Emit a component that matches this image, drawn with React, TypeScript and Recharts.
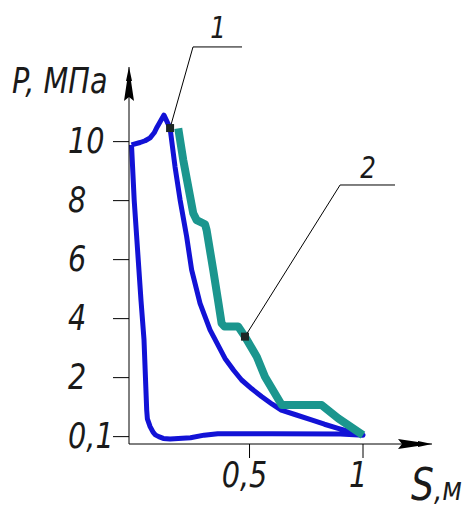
import { Line, LineChart, ReferenceDot, ReferenceLine, XAxis, YAxis } from 'recharts';

// indicator diagram, stroke S (m) vs pressure P (MPa)
const cycleS = [
  -0.02, 0.018, 0.04, 0.062, 0.08, 0.093, 0.123, 0.15, 0.172, 0.194, 0.223, 0.245, 0.282, 0.326,
  0.392, 0.43, 0.465, 0.51, 0.553, 0.6, 0.64, 0.7, 0.773, 0.83, 0.89, 0.95, 1.0, 0.9, 0.6, 0.36,
  0.3, 0.24, 0.15, 0.12, 0.1, 0.085, 0.075, 0.062, 0.05, 0.047, 0.035, 0.022, -0.008, -0.02,
];
const cycleP = [
  9.89, 9.97, 10.03, 10.13, 10.3, 10.5, 10.9, 10.46, 9.14, 8.03, 6.78, 5.65, 4.52, 3.62, 2.65,
  2.25, 1.92, 1.62, 1.36, 1.1, 0.9, 0.75, 0.57, 0.42, 0.28, 0.15, 0.05, 0.09, 0.1, 0.1, 0.05,
  -0.04, -0.08, -0.06, 0.0, 0.06, 0.15, 0.34, 0.6, 0.9, 3.3, 4.6, 8.0, 9.89,
];

const stepS = [
  0.186, 0.208, 0.252, 0.267, 0.304, 0.311, 0.34, 0.363, 0.377, 0.39, 0.45, 0.48, 0.532, 0.568,
  0.642, 0.818, 0.891, 1.0,
];
const stepP = [
  10.45, 9.38, 7.57, 7.34, 7.2, 7.0, 5.65, 4.53, 3.84, 3.73, 3.73, 3.39, 2.71, 2.03, 1.07, 1.07,
  0.62, 0.05,
];

const yTicks = [0, 2, 4, 6, 8, 10];
const yTickLabels = ['0,1', '2', '4', '6', '8', '10'];
const xTicks = [0.5, 1];
const xTickLabels = ['0,5', '1'];

// callouts: marker on curve, knee of leader, end of shelf, label position
const callouts = [
  { name: '1', dot: { x: 0.15, y: 10.46 }, knee: { x: 0.251, y: 13.21 }, end: { x: 0.467, y: 13.21 }, label: { x: 0.361, y: 13.5 } },
  { name: '2', dot: { x: 0.48, y: 3.39 }, knee: { x: 0.899, y: 8.53 }, end: { x: 1.141, y: 8.53 }, label: { x: 1.022, y: 8.77 } },
];

const cycle = cycleS.map((s, i) => ({ s, p: cycleP[i] }));
const step = stepS.map((s, i) => ({ s, p: stepP[i] }));

const FONT = "'DejaVu Sans', sans-serif";

// narrow italic text, like the drafting font
const Txt = ({ x, y, size = 35, anchor = 'start', children }: any) => (
  <text
    transform={`translate(${x},${y}) scale(0.82,1)`}
    textAnchor={anchor}
    fontFamily={FONT}
    fontStyle="italic"
    fontSize={size}
    fill="#1a1a1a"
  >
    {children}
  </text>
);

const YTick = (props: any) => {
  const { x, y, payload } = props;
  return (
    <Txt x={x - 43} y={y + 11}>
      {yTickLabels[yTicks.indexOf(payload.value)]}
    </Txt>
  );
};

const XTick = (props: any) => {
  const { x, y, payload } = props;
  return (
    <Txt x={x - 5} y={y + 27} anchor="middle">
      {xTickLabels[xTicks.indexOf(payload.value)]}
    </Txt>
  );
};

const ArrowUp = (props: any) => (
  <path d={`M${props.cx},${props.cy} l3,14 l-1,0 l3,20 l-5,-4 l-5,4 l3,-20 l-1,0 z`} fill="#000" />
);

const ArrowRight = (props: any) => (
  <path d={`M${props.cx},${props.cy} l-14,-3 l0,1 l-20,-3 l4,5 l-4,5 l20,-3 l0,1 z`} fill="#000" />
);

const Marker = (props: any) => <rect x={props.cx - 4} y={props.cy - 4} width={8} height={8} fill="#1c2624" />;

const CalloutLabel = (name: string) => (props: any) => (
  <Txt x={props.cx} y={props.cy} size={30} anchor="middle">
    {name}
  </Txt>
);

export default function App() {
  return (
    <div style={{ position: 'absolute', left: 0, top: 0, background: '#fff' }}>
      <LineChart width={467} height={512} margin={{ top: 67, right: 35, bottom: 0, left: 0 }}>
        <XAxis
          type="number"
          dataKey="s"
          domain={[-0.031, 1.304]}
          allowDataOverflow
          ticks={xTicks}
          tick={<XTick />}
          tickSize={14}
          height={68}
          axisLine={{ stroke: '#000' }}
          tickLine={{ stroke: '#000' }}
        />
        <YAxis
          type="number"
          dataKey="p"
          domain={[-0.25, 12.53]}
          allowDataOverflow
          ticks={yTicks}
          tick={<YTick />}
          tickSize={16}
          width={129}
          axisLine={{ stroke: '#000' }}
          tickLine={{ stroke: '#000' }}
        />
        <Line
          data={cycle}
          dataKey="p"
          type="linear"
          stroke="#1212d6"
          strokeWidth={5}
          strokeLinejoin="round"
          dot={false}
          isAnimationActive={false}
        />
        <Line
          data={step}
          dataKey="p"
          type="linear"
          stroke="#1b968e"
          strokeWidth={8}
          strokeLinejoin="round"
          dot={false}
          isAnimationActive={false}
        />
        {callouts.map((c) => (
          <ReferenceLine key={`a${c.name}`} segment={[c.dot, c.knee]} stroke="#000" strokeWidth={1} ifOverflow="visible" />
        ))}
        {callouts.map((c) => (
          <ReferenceLine key={`b${c.name}`} segment={[c.knee, c.end]} stroke="#000" strokeWidth={1} ifOverflow="visible" />
        ))}
        {callouts.map((c) => (
          <ReferenceDot key={`d${c.name}`} x={c.dot.x} y={c.dot.y} shape={Marker} ifOverflow="visible" />
        ))}
        {callouts.map((c) => (
          <ReferenceDot key={`l${c.name}`} x={c.label.x} y={c.label.y} shape={CalloutLabel(c.name)} ifOverflow="visible" />
        ))}
        <ReferenceDot x={-0.031} y={12.53} shape={ArrowUp} ifOverflow="visible" />
        <ReferenceDot x={1.304} y={-0.25} shape={ArrowRight} ifOverflow="visible" />
        <Txt x={12} y={93}>
          P, МПа
        </Txt>
        <Txt x={411} y={500} size={32}>
          <tspan fontSize={44}>S</tspan>
          <tspan>,м</tspan>
        </Txt>
      </LineChart>
    </div>
  );
}
